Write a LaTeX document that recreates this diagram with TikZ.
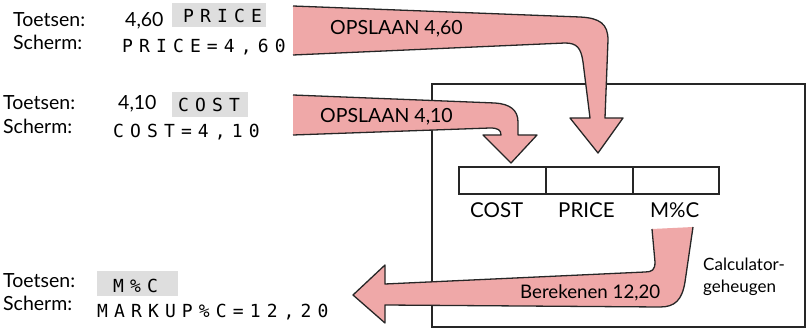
\documentclass[tikz,border=0pt]{standalone}
\usepackage{fontspec}
\setmainfont{Lato}
\newfontfamily\lcd[LetterSpace=34]{DejaVu Sans Mono}
\definecolor{arrowpink}{RGB}{239,168,168}
\definecolor{keygray}{RGB}{222,222,222}
\begin{document}
\begin{tikzpicture}[x=1pt,y=-1pt,
  lbl/.style={anchor=base west,inner sep=0pt,font=\fontsize{19.5}{19.5}\selectfont},
  albl/.style={anchor=base west,inner sep=0pt,font=\fontsize{19.5}{19.5}\selectfont},
  mlbl/.style={anchor=base west,inner sep=0pt,font=\fontsize{20.5}{20.5}\selectfont},
  clbl/.style={anchor=base west,inner sep=0pt,font=\fontsize{17}{17}\selectfont},
  lcdtxt/.style={anchor=base west,inner sep=0pt,font=\lcd\fontsize{18}{18}\selectfont},
  keybox/.style={fill=keygray,draw=none},
  pinkfill/.style={fill=arrowpink,draw=none},
  arrowline/.style={draw=black!85,line width=1.3pt,line join=round},
  memline/.style={draw=black!85,line width=2pt}]
\useasboundingbox (0,0) rectangle (807,329);
% calculator memory box
\draw[draw=black!85,line width=1.6pt] (432,84) rectangle (805,327);
\node[memline,minimum width=87pt,minimum height=27pt,inner sep=0pt,anchor=north west] (cost) at (458,166) {};
\node[memline,minimum width=87pt,minimum height=27pt,inner sep=0pt,anchor=north west] (price) at (545,166) {};
\node[memline,minimum width=86pt,minimum height=27pt,inner sep=0pt,anchor=north west] (mpc) at (632,166) {};
% arrow 1
\fill[pinkfill] (293,6) -- (580,17) .. controls (600,18) and (608,24) .. (608,40) -- (605,118) -- (623,118) -- (598,153) -- (570,118) -- (590,118) -- (583,62) .. controls (581,48) and (577,43) .. (565,43) -- (293,55) -- cycle;
\draw[arrowline] (293,55) -- (565,43) .. controls (577,43) and (581,48) .. (583,62) -- (590,118) -- (570,118) -- (598,153) -- (623,118) -- (605,118) -- (608,40) .. controls (608,24) and (600,18) .. (580,17) -- (293,6);
% arrow 2
\fill[pinkfill] (293,95) -- (495,103) .. controls (510,104) and (518,110) .. (518,122) -- (518,135) -- (537,135) -- (511,163) -- (483,135) -- (501,135) .. controls (501,130) and (498,128) .. (490,128) -- (293,135) -- cycle;
\draw[arrowline] (293,135) -- (490,128) .. controls (498,128) and (501,130) .. (501,135) -- (483,135) -- (511,163) -- (537,135) -- (518,135) -- (518,122) .. controls (518,110) and (510,104) .. (495,103) -- (293,95);
% arrow 3
\fill[pinkfill] (652,229) -- (693,227) -- (685,282) .. controls (682,300) and (675,307) .. (660,307) -- (385,305) -- (385,323) -- (353,295) -- (385,265) -- (385,284) -- (645,272) .. controls (652,272) and (655,270) .. (655,262) -- cycle;
\draw[arrowline] (693,227) -- (685,282) .. controls (682,300) and (675,307) .. (660,307) -- (385,305) -- (385,323) -- (353,295) -- (385,265) -- (385,284) -- (645,272) .. controls (652,272) and (655,270) .. (655,262) -- (652,229);
% key boxes
\fill[keybox] (172,3) rectangle (266,27);
\fill[keybox] (172,92) rectangle (248,117);
\fill[keybox] (97,271) rectangle (178,296);
% row 1
\node[lbl] (t1) at (13,27) {Toetsen:};
\node[lbl] (v1) at (125,27) {4,60};
\node[lcdtxt] (k1) at (183,23) {PRICE};
\node[lbl] (s1) at (13,50) {Scherm:};
\node[lcdtxt] (d1) at (122,53) {PRICE=4,60};
% row 2
\node[lbl] (t2) at (3,110) {Toetsen:};
\node[lbl] (v2) at (118,110) {4,10};
\node[lcdtxt] (k2) at (178,112) {COST};
\node[lbl] (s2) at (3,133) {Scherm:};
\node[lcdtxt] (d2) at (113,138) {COST=4,10};
% row 3
\node[lbl] (t3) at (3,287) {Toetsen:};
\node[lcdtxt] (k3) at (113,292) {M\%C};
\node[lbl] (s3) at (3,310) {Scherm:};
\node[lcdtxt] (d3) at (97,317) {MARKUP\%C=12,20};
% arrow labels
\node[albl] (a1) at (330,35) {OPSLAAN 4,60};
\node[albl] (a2) at (320,122) {OPSLAAN 4,10};
\node[albl,font=\fontsize{18.7}{18.7}\selectfont] (a3) at (520,298) {Berekenen 12,20};
% memory labels
\node[mlbl] (lc) at (470,217) {COST};
\node[mlbl] (lp) at (558,217) {PRICE};
\node[mlbl] (lm) at (650,217) {M\%C};
\node[clbl] (cal) at (703,270) {Calculator-};
\node[clbl] (geh) at (703,292) {geheugen};
\end{tikzpicture}
\end{document}
